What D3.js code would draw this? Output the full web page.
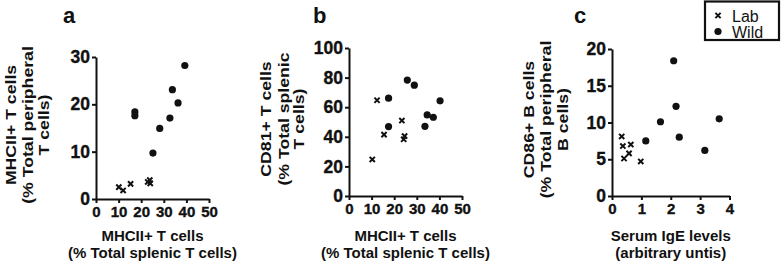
<!DOCTYPE html>
<html lang="en">
<head>
<meta charset="UTF-8">
<title>Lab vs Wild scatter</title>
<script src="https://d3js.org/d3.v7.min.js"></script>
<style>
    body { margin: 0; background: #fff; }
    svg { display: block; font-family: "Liberation Sans", Arial, sans-serif; }
    .axis path, .axis line { stroke: #111; stroke-width: 2; }
    .title { fill: #111; font-weight: bold; font-size: 15px; }
    .letter { fill: #111; font-weight: bold; font-size: 22px; }
    .cross { stroke: #111; stroke-width: 2; }
    .dot { fill: #111; }
</style>
</head>
<body>
<svg width="784" height="263"></svg>
<script>
// panel a
const aLabX = [10.1, 12.0, 15.3, 22.9, 23.8, 24.0];
const aLabY = [2.5, 1.8, 3.2, 3.6, 4.0, 3.3];
const aWildX = [17.2, 17.2, 25.2, 28.2, 32.7, 33.8, 36.3, 39.3];
const aWildY = [18.4, 17.6, 9.7, 14.9, 17.1, 23.1, 20.3, 28.2];
const aXTicks = [0, 10, 20, 30, 40, 50];
const aYTicks = [0, 10, 20, 30];

// panel b
const bLabX = [10.3, 12.4, 15.5, 23.4, 24.6, 24.2];
const bLabY = [24.7, 64.7, 41.5, 51.0, 40.5, 38.3];
const bWildX = [17.5, 17.5, 25.8, 28.9, 33.6, 34.6, 37.3, 40.3];
const bWildY = [66.1, 46.9, 78.3, 74.9, 47.1, 54.8, 53.2, 64.3];
const bXTicks = [0, 10, 20, 30, 40, 50];
const bYTicks = [0, 20, 40, 60, 80, 100];

// panel c
const cLabX = [0.33, 0.37, 0.64, 0.41, 0.58, 0.98];
const cLabY = [8.1, 6.8, 7.0, 5.1, 5.8, 4.7];
const cWildX = [1.15, 1.65, 2.1, 2.18, 2.29, 3.16, 3.65];
const cWildY = [7.5, 10.1, 18.4, 12.2, 8.0, 6.2, 10.5];
const cXTicks = [0, 1, 2, 3, 4];
const cYTicks = [0, 5, 10, 15, 20];

const legendLabels = ["Lab", "Wild"];

const svg = d3.select("svg");
const FONT = "'Liberation Sans', Arial, sans-serif";

function crossPath(x, y, s) {
    return "M" + (x - s) + "," + (y - s) + "L" + (x + s) + "," + (y + s) +
        "M" + (x - s) + "," + (y + s) + "L" + (x + s) + "," + (y - s);
}

function styleTicks(g, size) {
    g.attr("font-family", null).attr("font-size", null);
    g.selectAll("text")
        .style("font-family", FONT)
        .style("font-size", size + "px")
        .style("font-weight", "bold")
        .style("stroke", "#111")
        .style("stroke-width", 0.35)
        .attr("fill", "#111");
}

function drawPanel(p) {
    const x = d3.scaleLinear().domain(d3.extent(p.xTicks)).range([p.left, p.right]);
    const y = d3.scaleLinear().domain(d3.extent(p.yTicks)).range([p.bottom, p.top]);

    svg.append("g")
        .attr("class", "axis")
        .attr("transform", "translate(0," + p.bottom + ")")
        .call(d3.axisBottom(x).tickValues(p.xTicks).tickFormat(d3.format("d"))
            .tickSize(4).tickSizeOuter(0).tickPadding(3))
        .call(styleTicks, 15);

    svg.append("g")
        .attr("class", "axis")
        .attr("transform", "translate(" + p.left + ",0)")
        .call(d3.axisLeft(y).tickValues(p.yTicks).tickFormat(d3.format("d"))
            .tickSize(4).tickSizeOuter(0).tickPadding(2))
        .call(styleTicks, 17.5);

    svg.append("text").attr("class", "letter")
        .attr("x", p.letterX).attr("y", 23).text(p.letter);

    // x title, two lines
    p.xTitle.forEach(function (t, i) {
        svg.append("text").attr("class", "title")
            .attr("x", (p.left + p.right) / 2).attr("y", 241 + i * 17)
            .attr("text-anchor", "middle").text(t);
    });

    // y title, three rotated lines (the source figure is a bit stretched vertically)
    const cy = (p.top + p.bottom) / 2 - 3;
    p.yTitle.forEach(function (t, i) {
        svg.append("text").attr("class", "title")
            .attr("transform", "translate(" + p.yTitleX[i] + "," + cy + ") rotate(-90) scale(1.14,1)")
            .attr("text-anchor", "middle")
            .style("font-size", "15.5px")
            .text(t);
    });

    svg.append("g").selectAll("path")
        .data(d3.range(p.labX.length))
        .join("path")
        .attr("class", "cross")
        .attr("d", function (i) { return crossPath(x(p.labX[i]), y(p.labY[i]), 2.6); });

    svg.append("g").selectAll("circle")
        .data(d3.range(p.wildX.length))
        .join("circle")
        .attr("class", "dot")
        .attr("cx", function (i) { return x(p.wildX[i]); })
        .attr("cy", function (i) { return y(p.wildY[i]); })
        .attr("r", 3.6);
}

drawPanel({
    letter: "a", letterX: 63,
    left: 96, right: 209, top: 57, bottom: 199,
    xTicks: aXTicks, yTicks: aYTicks,
    labX: aLabX, labY: aLabY, wildX: aWildX, wildY: aWildY,
    xTitle: ["MHCII+ T cells", "(% Total splenic T cells)"],
    yTitle: ["MHCII+ T cells", "(% Total peripheral", "T cells)"],
    yTitleX: [16, 32.5, 49]
});

drawPanel({
    letter: "b", letterX: 313,
    left: 349, right: 462, top: 48, bottom: 196,
    xTicks: bXTicks, yTicks: bYTicks,
    labX: bLabX, labY: bLabY, wildX: bWildX, wildY: bWildY,
    xTitle: ["MHCII+ T cells", "(% Total splenic T cells)"],
    yTitle: ["CD81+ T cells", "(% Total splenic", "T cells)"],
    yTitleX: [271, 288.5, 304]
});

drawPanel({
    letter: "c", letterX: 574,
    left: 612, right: 729.5, top: 49, bottom: 196,
    xTicks: cXTicks, yTicks: cYTicks,
    labX: cLabX, labY: cLabY, wildX: cWildX, wildY: cWildY,
    xTitle: ["Serum IgE levels", "(arbitrary untis)"],
    yTitle: ["CD86+ B cells", "(% Total peripheral", "B cells)"],
    yTitleX: [534, 551, 568]
});

// legend
const legend = svg.append("g");
legend.append("rect")
    .attr("x", 705).attr("y", 1.5).attr("width", 74).attr("height", 38.5)
    .attr("fill", "#fff").attr("stroke", "#111").attr("stroke-width", 2.2);
legend.append("path").attr("class", "cross").attr("d", crossPath(718, 15.5, 2.6));
legend.append("circle").attr("class", "dot").attr("cx", 718).attr("cy", 31.5).attr("r", 3.6);
legendLabels.forEach(function (t, i) {
    legend.append("text")
        .attr("x", 732).attr("y", 21.5 + i * 16)
        .style("font-size", "16px").style("fill", "#111")
        .text(t);
});
</script>
</body>
</html>
